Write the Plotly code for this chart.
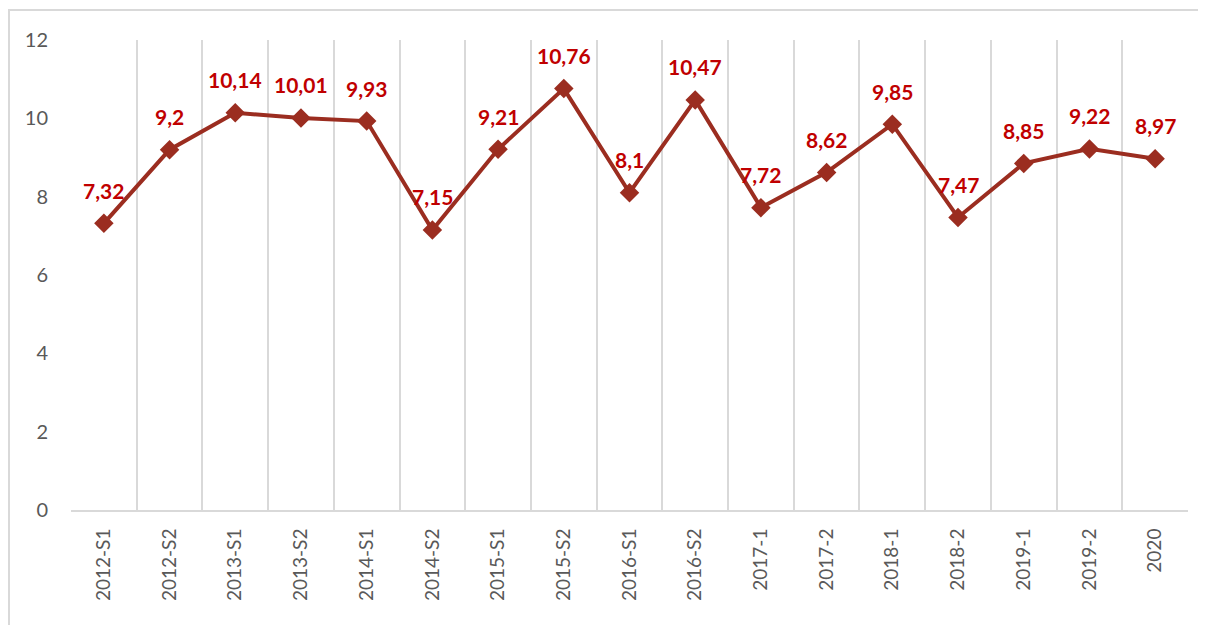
import plotly.graph_objects as go

categories = ["2012-S1", "2012-S2", "2013-S1", "2013-S2", "2014-S1", "2014-S2",
              "2015-S1", "2015-S2", "2016-S1", "2016-S2", "2017-1", "2017-2",
              "2018-1", "2018-2", "2019-1", "2019-2", "2020"]
values = [7.32, 9.2, 10.14, 10.01, 9.93, 7.15, 9.21, 10.76, 8.1, 10.47,
          7.72, 8.62, 9.85, 7.47, 8.85, 9.22, 8.97]
y_ticks = [0, 2, 4, 6, 8, 10, 12]

labels = [f"{v:g}".replace(".", ",") for v in values]

LINE = "#9B2D20"
LABEL = "#C00000"
GRID = "#D9D9D9"

fig = go.Figure()
fig.add_trace(go.Scatter(
    x=categories, y=values, mode="lines+markers",
    line=dict(color=LINE, width=4),
    marker=dict(symbol="diamond", size=15, color=LINE),
    hoverinfo="skip", showlegend=False,
))

for i, (v, t) in enumerate(zip(values, labels)):
    fig.add_annotation(x=i, y=v, text=f"<b>{t}</b>", showarrow=False,
                       yshift=33, font=dict(family="Lato, Open Sans, sans-serif",
                                            size=21, color=LABEL))

# page has an 8px body margin: figure origin sits at page (8, 8)
W, H = 1206, 625
L, R, T, B = 63, 26, 32, 123
pw, ph = W - L - R, H - T - B

fig.add_shape(type="rect", xref="paper", yref="paper",
              x0=(1 - L) / pw, x1=(W + 10 - L) / pw,
              y0=-(B + 20) / ph, y1=1 + (T - 2) / ph,
              line=dict(color=GRID, width=2), layer="below")

fig.update_layout(
    width=W, height=H,
    margin=dict(l=L, r=R, t=T, b=B),
    paper_bgcolor="white", plot_bgcolor="white",
    font=dict(family="Lato, Open Sans, sans-serif", color="#595959"),
    xaxis=dict(
        type="category", tickson="boundaries", showgrid=True, gridcolor=GRID,
        gridwidth=2, tickangle=-90, ticks="", showline=True, linecolor=GRID,
        linewidth=2, tickfont=dict(size=19, color="#595959"),
        ticklabelstandoff=9,
        range=[-0.5, len(categories) - 0.5], fixedrange=True,
        automargin=False,
    ),
    yaxis=dict(
        range=[0, 12], tickvals=y_ticks, showgrid=False, zeroline=False,
        showline=False, ticks="", tickfont=dict(size=20, color="#595959"),
        ticklabelstandoff=22, fixedrange=True, automargin=False,
    ),
)

fig.write_html("out.html")
